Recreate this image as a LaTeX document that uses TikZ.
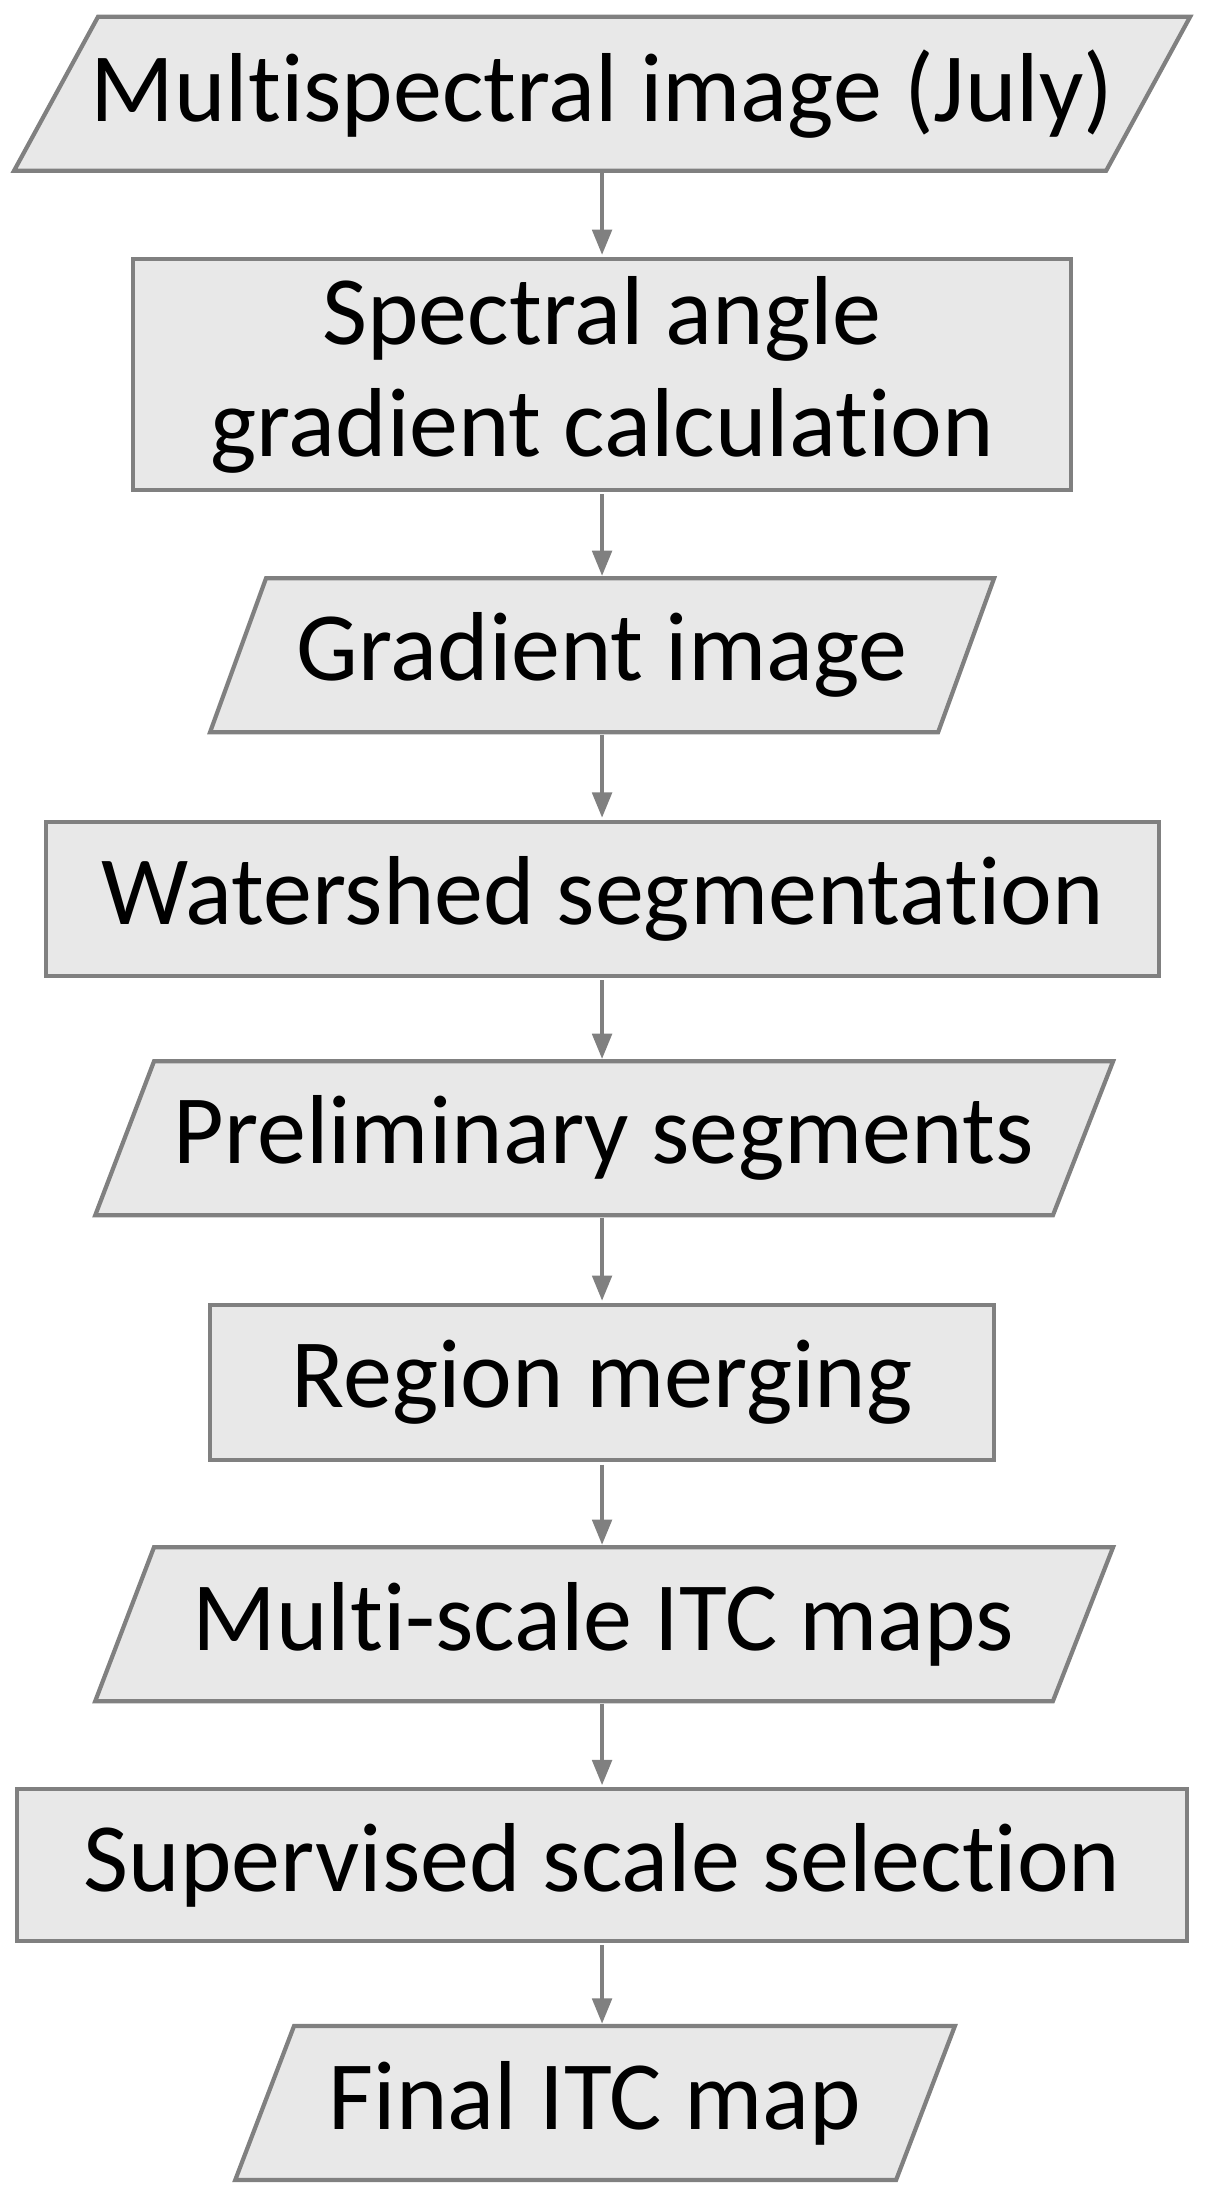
\documentclass[tikz,border=0pt]{standalone}
\usepackage{fontspec}
\setmainfont{Carlito}[Ligatures=NoCommon]
\usetikzlibrary{arrows.meta}
\begin{document}
\begin{tikzpicture}[x=1pt,y=-1pt,
  box/.style={draw=black!50,line width=3pt,fill=black!9},
  lbl/.style={inner sep=0pt,font=\fontsize{70}{80}\selectfont,align=center},
  arr/.style={draw=black!50,line width=2.5pt,-{Triangle[length=18pt,width=14pt]}}]
\useasboundingbox (0,0) rectangle (861,1562);
\coordinate (cx) at (430,0);
\newcommand{\para}[7]{%
  \draw[box] (#1,#5) -- (#2,#5) -- (#4,#6) -- (#3,#6) -- cycle;
  \node[inner sep=0pt,minimum height=#6-#5,minimum width=10pt] (#7) at ({(#1+#4)/2},{(#5+#6)/2}) {};}
\newcommand{\rectb}[5]{%
  \node[box,inner sep=0pt,minimum width=#2-#1,minimum height=#4-#3] (#5) at ({(#1+#2)/2},{(#3+#4)/2}) {};}
\para{70}{850}{10}{790}{12}{122}{n1}
\rectb{95}{765}{185}{350}{n2}
\para{190}{710}{150}{670}{413}{523}{n3}
\rectb{33}{828}{587}{697}{n4}
\para{110}{795}{68}{752}{758}{868}{n5}
\rectb{150}{710}{932}{1043}{n6}
\para{110}{795}{68}{752}{1105}{1215}{n7}
\rectb{12}{848}{1278}{1386}{n8}
\para{210}{682}{168}{640}{1447}{1557}{n9}
\node[lbl] at (n1) {Multispectral image (July)};
\node[lbl] at (n2) {Spectral angle\\gradient calculation};
\node[lbl] at (n3) {Gradient image};
\node[lbl] at (n4) {Watershed segmentation};
\node[lbl] at (n5) {Preliminary segments};
\node[lbl] at (n6) {Region merging};
\node[lbl] at (n7) {Multi-scale ITC maps};
\node[lbl] at (n8) {Supervised scale selection};
\node[lbl] at (n9) {Final ITC map};
\foreach \a/\b in {n1/n2,n2/n3,n3/n4,n4/n5,n5/n6,n6/n7,n7/n8,n8/n9}
  \draw[arr] ([yshift=-1.5pt]cx |- \a.south) -- ([yshift=1.5pt]cx |- \b.north);
\end{tikzpicture}
\end{document}
